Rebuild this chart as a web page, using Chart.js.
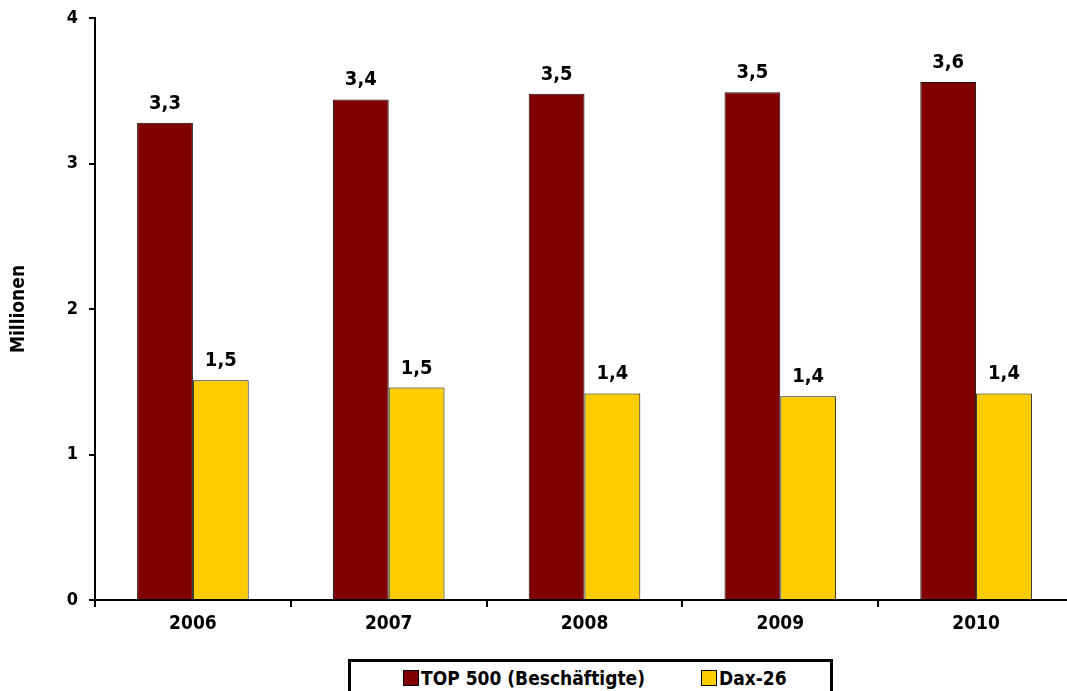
<!DOCTYPE html>
<html>
<head>
<meta charset="utf-8">
<script src="https://cdn.jsdelivr.net/npm/chart.js@4.4.0/dist/chart.umd.min.js"></script>
<style>
    html, body { margin: 0; padding: 0; background: #fff; overflow: hidden; }
    #wrap { position: absolute; left: 0; top: 0; width: 1080px; height: 640px; }
    #legendBox {
        position: absolute; left: 348px; top: 659px; width: 485px; height: 50px;
        border: 3px solid #000; box-sizing: border-box;
        padding-left: 52px; padding-top: 4px;
        font: bold 19px 'DejaVu Sans Condensed', 'DejaVu Sans', sans-serif; color: #000;
        white-space: nowrap; line-height: 24px;
    }
    #legendBox .item { display: inline-block; vertical-align: top; }
    #legendBox .sw { display: inline-block; width: 14px; height: 14px; border: 1px solid #000;
        vertical-align: middle; margin-right: 2px; position: relative; top: -2px; }
</style>
</head>
<body>
<div id="wrap"><canvas id="chart" width="1080" height="640"></canvas></div>
<div id="legendBox"></div>

<script>
// ---------------- Data ----------------
const years = ["2006", "2007", "2008", "2009", "2010"];
const top500 = [3.28, 3.44, 3.48, 3.49, 3.56];
const dax26 = [1.51, 1.46, 1.42, 1.40, 1.42];
const seriesNames = ["TOP 500 (Beschäftigte)", "Dax-26"];
const seriesColors = ["#800000", "#FFCC00"];

const FONT = "'DejaVu Sans Condensed', 'DejaVu Sans', sans-serif";

// value labels above each bar, german decimal comma
const valueLabels = {
    id: "valueLabels",
    afterDatasetsDraw(chart) {
        const ctx = chart.ctx;
        ctx.save();
        ctx.font = "bold 20px " + FONT;
        ctx.fillStyle = "#000";
        ctx.textAlign = "center";
        ctx.textBaseline = "alphabetic";
        chart.data.datasets.forEach(function(ds, i) {
            chart.getDatasetMeta(i).data.forEach(function(bar, j) {
                let txt = ds.data[j].toFixed(1).replace(".", ",");
                ctx.fillText(txt, bar.x, bar.y - 14);
            });
        });
        ctx.restore();
    }
};

let myChart = new Chart(document.getElementById("chart").getContext("2d"), {
    type: "bar",
    data: {
        labels: years,
        datasets: [{
            label: seriesNames[0],
            data: top500,
            backgroundColor: seriesColors[0],
            borderColor: "#111",
            borderWidth: 1,
        }, {
            label: seriesNames[1],
            data: dax26,
            backgroundColor: seriesColors[1],
            borderColor: "#111",
            borderWidth: 1,
        }],
    },
    options: {
        responsive: false,
        animation: false,
        datasets: {
            bar: { categoryPercentage: 0.57, barPercentage: 1.0 },
        },
        layout: { padding: { top: 18, right: 6, left: 0, bottom: 0 } },
        plugins: {
            legend: { display: false },
            tooltip: { enabled: false },
        },
        scales: {
            x: {
                grid: { display: true, drawOnChartArea: false, drawTicks: true, tickLength: 7, color: "#000", lineWidth: 2 },
                border: { display: true, color: "#000", width: 2 },
                ticks: { color: "#000", font: { family: FONT, size: 19, weight: "bold" }, padding: 6 },
                afterFit: function(scale) { scale.height = 40; },
            },
            y: {
                min: 0,
                max: 4,
                ticks: { stepSize: 1, color: "#000", font: { family: FONT, size: 18, weight: "bold" }, padding: 11 },
                grid: { display: true, drawOnChartArea: false, drawTicks: true, tickLength: 6, color: "#000", lineWidth: 2 },
                border: { display: true, color: "#000", width: 2 },
                title: {
                    display: true,
                    text: "Millionen",
                    color: "#000",
                    font: { family: FONT, size: 19, weight: "bold" },
                    padding: { top: 8, bottom: 0 },
                },
                afterFit: function(scale) {
                    scale.width = 95;
                    scale.paddingTop = 0;
                    scale.paddingBottom = 0;
                },
            },
        },
    },
    plugins: [valueLabels],
});

// ---------------- Legend ----------------
let legendHtml = "";
myChart.data.datasets.forEach(function(ds, i) {
    legendHtml += `<span class="item" style="margin-right:${i === 0 ? 56 : 0}px">` +
        `<span class="sw" style="background:${ds.backgroundColor}"></span>${ds.label}</span>`;
});
document.getElementById("legendBox").innerHTML = legendHtml;
</script>
</body>
</html>
